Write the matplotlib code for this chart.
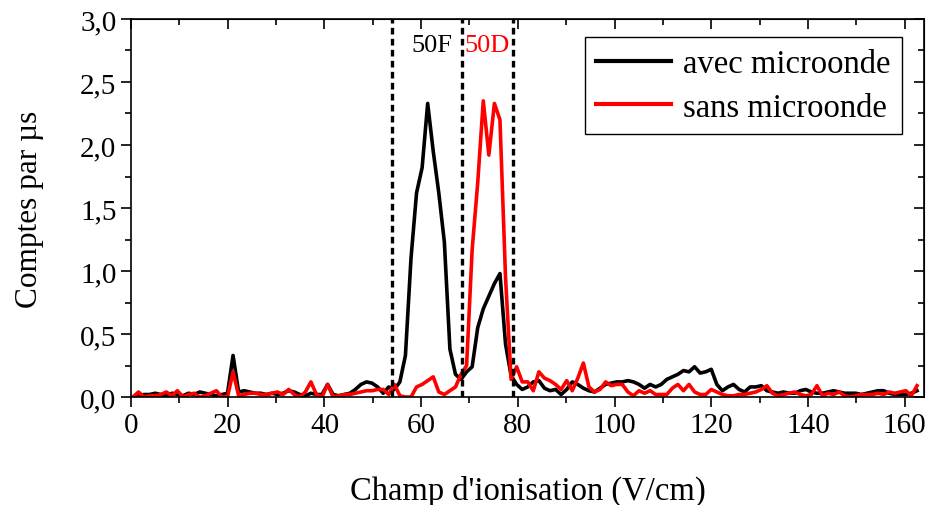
import numpy as np
import matplotlib
matplotlib.use("Agg")
import matplotlib.pyplot as plt
from matplotlib.ticker import MultipleLocator, FuncFormatter

plt.rcParams['font.family'] = ['Liberation Serif', 'DejaVu Serif']

# ionisation field sampling (V/cm)
field_start = 0.4
field_step = 1.15

avec = [
    0.00, 0.01, 0.02, 0.02, 0.03, 0.02, 0.01, 0.03, 0.02, 0.01,
    0.03, 0.02, 0.04, 0.03, 0.02, 0.01, 0.02, 0.03, 0.33, 0.04,
    0.05, 0.04, 0.03, 0.03, 0.02, 0.03, 0.02, 0.03, 0.05, 0.04,
    0.02, 0.01, 0.03, 0.02, 0.02, 0.10, 0.02, 0.01, 0.02, 0.03,
    0.06, 0.10, 0.12, 0.11, 0.08, 0.03, 0.08, 0.06, 0.12, 0.33,
    1.10, 1.62, 1.82, 2.33, 1.95, 1.62, 1.23, 0.38, 0.18, 0.14,
    0.20, 0.24, 0.55, 0.70, 0.80, 0.90, 0.98, 0.42, 0.17, 0.10,
    0.06, 0.08, 0.12, 0.13, 0.07, 0.05, 0.06, 0.02, 0.06, 0.12,
    0.10, 0.07, 0.05, 0.04, 0.07, 0.10, 0.11, 0.12, 0.12, 0.13,
    0.12, 0.10, 0.07, 0.10, 0.08, 0.10, 0.14, 0.16, 0.18, 0.21,
    0.20, 0.24, 0.19, 0.20, 0.22, 0.10, 0.05, 0.08, 0.10, 0.06,
    0.04, 0.08, 0.08, 0.09, 0.05, 0.04, 0.03, 0.04, 0.03, 0.03,
    0.05, 0.06, 0.04, 0.03, 0.03, 0.04, 0.05, 0.04, 0.03, 0.03,
    0.03, 0.02, 0.03, 0.04, 0.05, 0.05, 0.03, 0.02, 0.02, 0.02,
    0.03, 0.05,
]

sans = [
    0.00, 0.04, 0.00, 0.01, 0.01, 0.02, 0.04, 0.01, 0.05, 0.00,
    0.02, 0.03, 0.00, 0.01, 0.03, 0.05, 0.00, 0.00, 0.20, 0.01,
    0.02, 0.03, 0.03, 0.02, 0.02, 0.03, 0.04, 0.02, 0.06, 0.02,
    0.00, 0.04, 0.12, 0.02, 0.00, 0.10, 0.00, 0.01, 0.02, 0.02,
    0.03, 0.04, 0.05, 0.05, 0.06, 0.06, 0.02, 0.10, 0.01, 0.00,
    0.00, 0.08, 0.10, 0.13, 0.16, 0.04, 0.02, 0.05, 0.08, 0.18,
    0.25, 1.17, 1.70, 2.35, 1.92, 2.33, 2.20, 0.95, 0.14, 0.24,
    0.12, 0.12, 0.05, 0.20, 0.15, 0.13, 0.10, 0.06, 0.13, 0.05,
    0.15, 0.27, 0.08, 0.04, 0.06, 0.12, 0.09, 0.10, 0.10, 0.04,
    0.01, 0.05, 0.03, 0.05, 0.02, 0.02, 0.02, 0.07, 0.10, 0.05,
    0.10, 0.04, 0.02, 0.02, 0.06, 0.04, 0.02, 0.01, 0.01, 0.02,
    0.02, 0.03, 0.04, 0.06, 0.09, 0.03, 0.01, 0.02, 0.03, 0.04,
    0.02, 0.01, 0.02, 0.09, 0.01, 0.03, 0.02, 0.04, 0.01, 0.00,
    0.01, 0.02, 0.02, 0.02, 0.03, 0.02, 0.04, 0.03, 0.04, 0.05,
    0.01, 0.09,
]

# window limits (V/cm) and their labels
windows = [54.0, 68.5, 79.0]
window_labels = ["50F", "50D"]
window_label_x = [62.2, 73.6]
window_label_colors = ["black", "red"]

field = field_start + field_step * np.arange(len(avec))

fig = plt.figure(figsize=(9.28, 5.06), dpi=100)
ax = fig.add_axes([0.1412, 0.2134, 0.8545, 0.7471])

ax.plot(field, avec, color="black", lw=2.6, label="avec microonde")
ax.plot(field, sans, color="red", lw=2.6, label="sans microonde")

for w in windows:
    ax.axvline(w, color="black", lw=2.4, ls=(0, (2.0, 1.3)), zorder=3)
for lab, lx, c in zip(window_labels, window_label_x, window_label_colors):
    ax.text(lx, 2.79, lab, color=c, fontsize=19, ha="center", va="center")

ax.set_xlim(0, 164)
ax.set_ylim(0, 3.0)
ax.xaxis.set_major_locator(MultipleLocator(20))
ax.xaxis.set_minor_locator(MultipleLocator(10))
ax.yaxis.set_major_locator(MultipleLocator(0.5))
ax.yaxis.set_minor_locator(MultipleLocator(0.25))
ax.yaxis.set_major_formatter(FuncFormatter(lambda v, p: f"{v:.1f}".replace(".", ",")))

ax.tick_params(which="both", direction="out", top=False, right=False, labelsize=21, width=1.2)
ax.tick_params(which="major", length=7)
ax.tick_params(which="minor", length=4)

# inward ticks on top and right
axt = ax.secondary_xaxis("top")
axt.xaxis.set_major_locator(MultipleLocator(20))
axt.xaxis.set_minor_locator(MultipleLocator(10))
axt.tick_params(which="both", direction="in", labeltop=False, width=1.2)
axt.tick_params(which="major", length=7)
axt.tick_params(which="minor", length=4)
axr = ax.secondary_yaxis("right")
axr.yaxis.set_major_locator(MultipleLocator(0.5))
axr.yaxis.set_minor_locator(MultipleLocator(0.25))
axr.tick_params(which="both", direction="in", labelright=False, width=1.2)
axr.tick_params(which="major", length=7)
axr.tick_params(which="minor", length=4)

for s in ax.spines.values():
    s.set_linewidth(1.2)

ax.set_xlabel("Champ d'ionisation (V/cm)", fontsize=23.5, labelpad=27)
ax.set_ylabel("Comptes par µs", fontsize=22.5, labelpad=26)

leg = ax.legend(loc="upper right", bbox_to_anchor=(0.972, 0.952), fontsize=23.5,
                handlelength=2.3, fancybox=False, framealpha=1, borderpad=0.35,
                labelspacing=0.4, handletextpad=0.35, borderaxespad=0)
leg.get_frame().set_edgecolor("black")
leg.get_frame().set_linewidth(1.0)
for line in leg.get_lines():
    line.set_linewidth(3.0)

fig.savefig("out.png", dpi=100)
